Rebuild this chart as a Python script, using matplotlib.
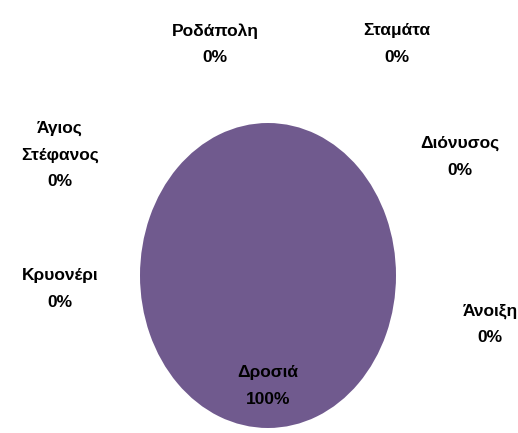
import matplotlib.pyplot as plt

areas = ['Δροσιά', 'Κρυονέρι', 'Άγιος\nΣτέφανος', 'Ροδάπολη', 'Σταμάτα', 'Διόνυσος', 'Άνοιξη']
shares = [100, 0, 0, 0, 0, 0, 0]
pct_labels = ['100%', '0%', '0%', '0%', '0%', '0%', '0%']

# label centres in figure pixels (x, y from top)
label_pos = [(268, 386), (60, 289), (60, 155), (215, 44), (397, 44), (460, 157), (490, 324)]

fig = plt.figure(figsize=(5.18, 4.33), dpi=100)
W, H = 518, 433

ax = fig.add_axes([140 / W, (433 - 428) / H, 256 / W, 305 / H])
ax.pie(shares, colors=['#705A8E'] * 7, startangle=90, counterclock=False,
       wedgeprops=dict(linewidth=0))
ax.set_aspect('auto')
ax.set_xlim(-1, 1)
ax.set_ylim(-1, 1)
ax.axis('off')

for name, pct, (x, y) in zip(areas, pct_labels, label_pos):
    fig.text(x / W, 1 - y / H, name + '\n' + pct, ha='center', va='center',
             fontsize=12.5, fontweight='heavy', family='Liberation Sans',
             linespacing=1.95)

plt.savefig('out.png', dpi=100)
